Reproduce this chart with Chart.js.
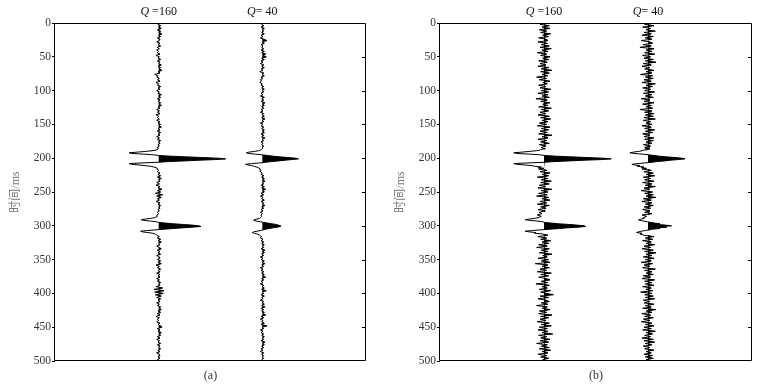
<!DOCTYPE html>
<html>
<head>
<meta charset="utf-8">
<script src="https://cdn.jsdelivr.net/npm/chart.js@4.4.1/dist/chart.umd.min.js"></script>
<style>
  html, body { margin: 0; padding: 0; background: #fff; }
  #wrap { position: relative; width: 771px; height: 387px; }
  canvas { position: absolute; top: 0; }
  #chartA { left: 0; }
  #chartB { left: 385px; }
</style>
</head>
<body>
<div id="wrap">
  <canvas id="chartA" width="385" height="387"></canvas>
  <canvas id="chartB" width="386" height="387"></canvas>
</div>
<script>
// sample times (ms): 2 ms away from the reflections, 1 ms around them
function span(from, to, step) {
  const out = [];
  for (let t = from; t <= to; t += step) out.push(t);
  return out;
}
const times = [...span(0, 184, 2), ...span(185, 215, 1), ...span(216, 288, 2), ...span(289, 312, 1), ...span(314, 500, 2)];

const timeTicks = [0, 50, 100, 150, 200, 250, 300, 350, 400, 450, 500];
const qLabels = [' =160', '= 40'];
const panelTags = ['(a)', '(b)'];

// amplitudes (peak of Q=160 at 200 ms = 100)
// panel (a)
const a160 = [
  // 0..184
  2, -1, 3, 0, 4, -2, 3, 1, 5, 0,
  3, -2, 2, 1, -3, 2, -1, 3, -2, 1,
  -3, 0, -2, 2, -4, 1, -1, 3, -2, 2,
  0, 4, -1, 3, 1, 5, -1, 2, -6, -1,
  -3, 1, -2, 2, -4, 0, -2, 3, -1, 2,
  -3, 1, -1, 4, 0, 3, -2, 2, -1, 3,
  1, 4, -1, 2, -3, 1, -2, 2, -4, 0,
  -2, 1, -3, 2, -1, 3, 0, 4, -1, 2,
  -2, 3, -1, 2, -3, 1, -2, 3, 0, 2,
  -1, 1, -2,
  // 185..215
  0, -1, -2, -4, -10, -20, -32, -44, -40, -22,
  -8, 0, 18, 40, 65, 88, 100, 85, 60, 38,
  15, 0, -25, -44, -40, -30, -20, -12, -7, -4,
  -2,
  // 216..288
  -3, 0, -2, 2, -1, 3, -2, 4, 0, 2,
  -3, 1, -4, 2, -1, 5, -2, 3, -5, 6,
  -3, 4, -2, 1, -4, 2, -1, 3, 0, 2,
  -1, 1, -2, 0, -3, -2, -6,
  // 289..312
  -12, -20, -26, -22, -12, -4, 0, 10, 22, 36,
  50, 60, 63, 50, 36, 22, 8, -4, -18, -27,
  -24, -16, -9, -5,
  // 314..500
  -3, 1, -2, 3, -1, 4, 0, 2, -3, 1,
  4, -2, 2, -1, 3, -3, 1, 2, -2, 3,
  -1, 4, -4, 1, -2, 3, 0, 2, -3, 2,
  -1, 2, -3, 1, -2, 3, 0, 2, -4, 6,
  -7, 8, -6, 7, -5, 4, -3, 3, -1, 2,
  -3, 1, -2, 3, 1, 4, -1, 3, -2, 2,
  -4, 1, -2, 0, -3, 2, -1, 3, 5, -2,
  2, -1, 4, 1, 3, -2, 2, -3, 1, -1,
  3, -2, 2, 0, 3, -1, 2, -3, 1, 2,
  -1, 2, -2, 0
];
const a40 = [
  1, -1, 2, -2, 3, 0, 2, -1, 3, -2,
  1, -3, 2, 7, 0, 3, -2, 1, -1, 2,
  -2, 3, -1, 5, 1, 6, -1, 3, -2, 1,
  -3, 2, -1, 3, -2, 1, -4, 2, 0, 3,
  -2, 1, -3, -1, -4, 0, -2, 2, -1, 3,
  0, 2, -2, 1, -3, 3, -1, 2, -2, 4,
  1, 3, -1, 2, -2, 1, -3, 2, 0, 3,
  -1, 4, 0, 2, -3, 1, -2, 2, -1, 3,
  1, 3, -2, 2, -1, 4, 0, 2, -2, 1,
  -1, 2, 0,
  1, 0, -1, -3, -6, -12, -20, -24, -20, -10,
  0, 8, 16, 26, 38, 50, 54, 44, 34, 24,
  14, 5, -4, -16, -25, -22, -16, -12, -9, -6,
  -4,
  -4, -2, -3, 0, -2, 2, -1, 3, 1, 4,
  0, 2, -2, 3, -1, 5, 1, 3, -2, 2,
  -3, 1, -1, 3, -2, 2, 0, 4, -1, 2,
  -2, 1, -3, 0, -2, -1, -3,
  -4, -8, -12, -13, -9, -3, 2, 8, 14, 20,
  24, 27, 27, 22, 16, 10, 5, 1, -3, -8,
  -13, -15, -12, -8,
  -4, -1, -3, 1, -2, 2, -1, 3, 0, 2,
  -2, 4, 1, 3, -1, 2, -3, 1, -2, 3,
  0, 4, -1, 2, -3, 1, -2, 2, -1, 3,
  1, 5, -1, 2, -2, 1, -3, 2, 0, 3,
  -1, 6, 0, 2, -2, 3, -1, 1, -3, 2,
  0, 3, -1, 4, -2, 2, -1, 3, 1, 5,
  -2, 2, -3, 1, -1, 3, -2, 7, 0, 2,
  -3, 1, -2, 2, -1, 3, 0, 2, -2, 4,
  1, 3, -1, 2, -2, 1, -3, 2, -1, 2,
  0, 2, -1, 1
];
// panel (b)
const b160 = [
  5, -6, 8, -3, 9, -7, 4, -5, 10, -2,
  7, -8, 3, 6, -9, 5, -4, 8, -6, 11,
  -3, 6, -10, 4, -5, 9, -2, 7, -8, 5,
  -6, 3, -9, 7, -4, 12, -5, 8, -3, 6,
  -11, 4, -7, 9, -2, 5, -8, 3, -6, 10,
  -4, 7, -9, 6, -3, 8, -12, 5, -5, 9,
  -2, 6, -8, 11, -4, 7, -6, 3, -9, 8,
  -5, 10, -3, 6, -7, 4, -10, 9, -4, 7,
  -6, 5, -8, 12, -3, 6, -9, 4, -5, 8,
  -7, 3, -4,
  -3, 2, -5, -6, -12, -22, -33, -45, -41, -20,
  -6, 1, 18, 40, 64, 88, 100, 86, 60, 37,
  15, 1, -24, -45, -41, -29, -18, -14, -4, -9,
  0,
  -8, 4, -6, 9, -3, 7, -10, 6, -4, 11,
  -5, 8, -7, 3, -9, 12, -4, 6, -8, 5,
  -11, 7, -3, 9, -6, 4, -10, 8, -5, 3,
  -9, 2, -7, -3, -10, -4, -9,
  -14, -22, -28, -21, -10, -2, 1, 11, 21, 37,
  49, 60, 62, 51, 35, 23, 9, -5, -17, -28,
  -22, -12, -14, -3,
  6, -9, 4, -5, 10, -3, 7, -8, 5, -11,
  8, -4, 6, -7, 12, -2, 5, -9, 7, -4,
  9, -13, 6, -3, 8, -6, 4, -10, 11, -5,
  7, -8, 3, 9, -4, 6, -12, 8, -3, 5,
  -7, 10, -5, 4, 14, -6, 7, -9, 3, 8,
  -4, 6, -11, 5, -3, 9, -7, 4, -8, 12,
  -5, 7, -6, 3, -10, 8, -4, 11, -7, 5,
  -9, 6, -3, 13, -8, 4, -5, 9, -6, 7,
  -11, 5, -4, 8, -7, 10, -3, 6, -9, 4,
  -5, 7, -2, 4
];
const b40 = [
  7, -5, 9, -8, 4, -3, 11, -6, 5, -9,
  8, -4, 6, -10, 3, 7, -7, 5, -12, 9,
  -3, 6, -5, 10, -8, 4, -6, 8, -4, 12,
  -7, 5, -9, 3, -5, 9, -3, 6, -11, 7,
  -4, 8, -6, 5, -9, 11, -3, 7, -8, 4,
  -5, 10, -7, 6, -4, 8, -10, 3, -6, 9,
  -8, 5, -3, 7, -12, 6, -5, 9, -4, 8,
  -6, 11, -7, 4, -3, 6, -9, 5, -5, 10,
  -4, 7, -8, 3, -6, 9, -5, 8, -3, 6,
  -7, 4, -5,
  3, -4, 2, -6, -9, -14, -22, -27, -21, -8,
  1, 9, 17, 27, 40, 51, 55, 45, 33, 25,
  13, 6, -5, -15, -24, -20, -12, -16, -6, -10,
  -2,
  -9, 5, -6, 8, -3, 10, -7, 4, -5, 9,
  -8, 6, -4, 11, -6, 3, -10, 7, -5, 8,
  -3, 12, -7, 5, -9, 6, -4, 8, -6, 4,
  -8, 3, -5, 6, -9, -2, -7,
  -6, -10, -14, -12, -6, -1, 4, 10, 18, 13,
  26, 35, 22, 28, 14, 18, 6, 2, -4, -10,
  -14, -17, -9, -12,
  -6, 9, -4, 7, -8, 5, -3, 10, -6, 4,
  -9, 8, -5, 12, -3, 6, -7, 9, -4, 5,
  -10, 7, -6, 3, -8, 11, -5, 6, -3, 8,
  -7, 4, -9, 10, -5, 6, -4, 9, -8, 5,
  -3, 7, -11, 6, -5, 8, -4, 10, -7, 3,
  -6, 9, -4, 5, -8, 12, -3, 6, -9, 4,
  -5, 8, -7, 3, -10, 6, -4, 9, -6, 5,
  -8, 11, -3, 7, -5, 4, -9, 8, -6, 10,
  -4, 6, -7, 3, -5, 9, -3, 5, -6, 7,
  -4, 8, -3, 5
];

const GAIN = 0.00646;        // amplitude units -> trace spacing
const TRACE_POS = [1, 2];    // trace baselines on the x scale
const SERIF = '"Liberation Serif", "Times New Roman", serif';

// wiggle line + variable-area fill of the positive half
function wiggle(amps, base) {
  const n = Math.min(amps.length, times.length);
  const line = [], area = [];
  for (let i = 0; i < n; i++) {
    line.push({ x: base + amps[i] * GAIN, y: times[i] });
    area.push({ x: base + Math.max(amps[i], 0) * GAIN, y: times[i] });
  }
  return [
    { data: line, borderColor: '#000', borderWidth: 1, fill: false, order: 0 },
    { data: area, borderColor: 'rgba(0,0,0,0)', borderWidth: 1, backgroundColor: '#000', fill: { value: base }, order: 1 }
  ];
}

const framePlugin = {
  id: 'frame',
  afterDraw(chart) {
    const { ctx, chartArea: a, scales: { x, y } } = chart;
    ctx.save();
    ctx.strokeStyle = '#000';
    ctx.lineWidth = 1;
    ctx.beginPath();
    ctx.rect(Math.round(a.left) - 0.5, Math.round(a.top) + 0.5, Math.round(a.right - a.left), Math.round(a.bottom - a.top) - 1);
    // inward ticks on the right edge
    y.ticks.slice(1, -1).forEach(t => {
      const py = Math.round(y.getPixelForValue(t.value)) + 0.5;
      ctx.moveTo(a.right, py);
      ctx.lineTo(a.right - 4, py);
    });
    ctx.stroke();

    // Q labels above the traces
    ctx.fillStyle = '#111';
    ctx.textBaseline = 'middle';
    ctx.textAlign = 'left';
    qLabels.forEach((rest, i) => {
      const cx = x.getPixelForValue(TRACE_POS[i]);
      ctx.font = 'italic 12px ' + SERIF;
      const w1 = ctx.measureText('Q').width;
      ctx.font = '12px ' + SERIF;
      const w2 = ctx.measureText(rest).width;
      const x0 = cx - (w1 + w2) / 2;
      ctx.font = 'italic 12px ' + SERIF;
      ctx.fillText('Q', x0, 12);
      ctx.font = '12px ' + SERIF;
      ctx.fillText(rest, x0 + w1, 12);
    });
    ctx.restore();
  }
};

function makePanel(canvasId, tag, tr160, tr40) {
  return new Chart(document.getElementById(canvasId), {
    type: 'line',
    data: { datasets: [...wiggle(tr160, TRACE_POS[0]), ...wiggle(tr40, TRACE_POS[1])] },
    options: {
      indexAxis: 'y',
      responsive: false,
      animation: false,
      layout: { padding: { left: 0, right: 19, top: 23, bottom: 0 } },
      elements: { point: { radius: 0 }, line: { tension: 0 } },
      plugins: { legend: { display: false }, tooltip: { enabled: false } },
      scales: {
        x: {
          type: 'linear', min: 0, max: 3,
          ticks: { display: false },
          grid: { display: false },
          border: { display: false },
          afterFit: s => { s.height = 26; },
          title: { display: true, text: tag, color: '#333', font: { family: SERIF, size: 12 }, padding: { top: 0, bottom: 4 } }
        },
        y: {
          type: 'linear', reverse: true, min: 0, max: 500,
          afterBuildTicks: s => { s.ticks = timeTicks.map(v => ({ value: v })); },
          afterFit: s => { s.width = 55; },
          ticks: { color: '#333', font: { family: SERIF, size: 11.5 }, padding: 1 },
          grid: { drawOnChartArea: false, tickLength: 3, color: '#000' },
          border: { display: false },
          title: {
            display: true, text: '时间/ms', color: '#777',
            font: { family: '"Liberation Serif", "Noto Sans CJK SC", serif', size: 12 },
            padding: { top: 9, bottom: 0 }
          }
        }
      }
    },
    plugins: [framePlugin]
  });
}

makePanel('chartA', panelTags[0], a160, a40);
makePanel('chartB', panelTags[1], b160, b40);
</script>
</body>
</html>
